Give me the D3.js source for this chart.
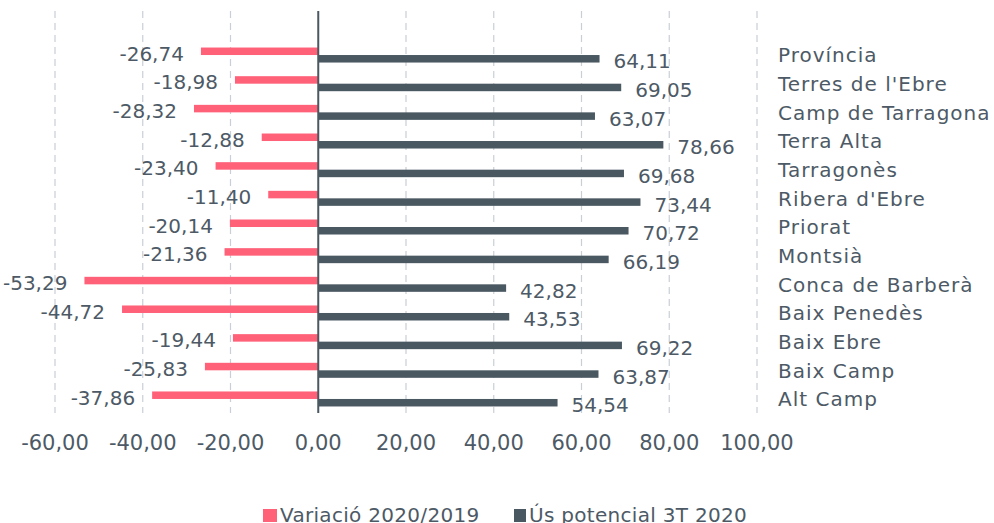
<!DOCTYPE html>
<html>
<head>
<meta charset="utf-8">
<script src="https://cdn.jsdelivr.net/npm/d3@7"></script>
<style>
  body { margin: 0; background: #fff; }
  text { font-family: "DejaVu Sans", sans-serif; fill: #4d5a66; }
</style>
</head>
<body>
<svg id="chart" width="994" height="523"></svg>
<script>
// Categories, top to bottom.
const categories = ['Província', "Terres de l'Ebre", 'Camp de Tarragona', 'Terra Alta', 'Tarragonès',
    "Ribera d'Ebre", 'Priorat', 'Montsià', 'Conca de Barberà', 'Baix Penedès', 'Baix Ebre',
    'Baix Camp', 'Alt Camp'];

// Variació 2020/2019
const variacio = [-26.74, -18.98, -28.32, -12.88, -23.40, -11.40, -20.14, -21.36, -53.29, -44.72, -19.44, -25.83, -37.86];

// Ús potencial 3T 2020
const usPotencial = [64.11, 69.05, 63.07, 78.66, 69.68, 73.44, 70.72, 66.19, 42.82, 43.53, 69.22, 63.87, 54.54];

const seriesNames = ['Variació 2020/2019', 'Ús potencial 3T 2020'];
const xTicks = [-60, -40, -20, 0, 20, 40, 60, 80, 100];

const pink = '#ff6179';
const dark = '#4a5862';

// comma decimals, plain hyphen for negatives
const locale = d3.formatLocale({decimal: ',', thousands: '.', grouping: [3], currency: ['', '€'], minus: '-'});
const fmt = locale.format('.2f');

const svg = d3.select('#chart');

let x = d3.scaleLinear().domain([-60, 100]).range([55, 757]);

let y0 = d3.scaleBand().domain(categories).range([40.7, 413.3]);
let y1 = d3.scaleBand().domain(seriesNames).range([0, y0.bandwidth()]).paddingOuter(0.91);

const gridTop = 11, gridBottom = 413;

// dashed gridlines
svg.append('g')
    .selectAll('line')
    .data(xTicks.filter(d => d !== 0))
    .enter().append('line')
    .attr('x1', d => x(d)).attr('x2', d => x(d))
    .attr('y1', gridTop).attr('y2', gridBottom)
    .attr('stroke', '#c9cfd6')
    .attr('stroke-width', 1.2)
    .attr('stroke-dasharray', '7,5');

// tick labels
svg.append('g')
    .selectAll('text')
    .data(xTicks)
    .enter().append('text')
    .attr('x', d => x(d))
    .attr('y', 450)
    .attr('text-anchor', 'middle')
    .style('font-size', '21px')
    .text(d => fmt(d));

let rows = categories.map((c, i) => ({cat: c, v: variacio[i], u: usPotencial[i]}));

// variació bars
svg.append('g')
    .selectAll('rect')
    .data(rows)
    .enter().append('rect')
    .attr('x', d => x(d.v))
    .attr('width', d => x(0) - x(d.v))
    .attr('y', d => y0(d.cat) + y1(seriesNames[0]))
    .attr('height', y1.bandwidth())
    .attr('fill', pink);

// ús potencial bars
svg.append('g')
    .selectAll('rect')
    .data(rows)
    .enter().append('rect')
    .attr('x', x(0))
    .attr('width', d => x(d.u) - x(0))
    .attr('y', d => y0(d.cat) + y1(seriesNames[1]))
    .attr('height', y1.bandwidth())
    .attr('fill', dark);

// zero line
svg.append('line')
    .attr('x1', x(0)).attr('x2', x(0))
    .attr('y1', gridTop).attr('y2', gridBottom)
    .attr('stroke', dark)
    .attr('stroke-width', 2);

// value labels
svg.append('g')
    .selectAll('text')
    .data(rows)
    .enter().append('text')
    .attr('x', d => x(d.v) - 17)
    .attr('y', d => y0(d.cat) + y1(seriesNames[0]) + y1.bandwidth() / 2 + 9.5)
    .attr('text-anchor', 'end')
    .style('font-size', '20px')
    .text(d => fmt(d.v));

svg.append('g')
    .selectAll('text')
    .data(rows)
    .enter().append('text')
    .attr('x', d => x(d.u) + 14)
    .attr('y', d => y0(d.cat) + y1(seriesNames[1]) + y1.bandwidth() / 2 + 9.5)
    .attr('text-anchor', 'start')
    .style('font-size', '20px')
    .text(d => fmt(d.u));

// category labels on the right
svg.append('g')
    .selectAll('text')
    .data(categories)
    .enter().append('text')
    .attr('x', 778)
    .attr('y', d => y0(d) + y0.bandwidth() / 2 + 7.3)
    .style('font-size', '20px')
    .style('letter-spacing', '1px')
    .text(d => d);

// legend
const legendItems = [
    {name: seriesNames[0], color: pink, x: 263, w: 14},
    {name: seriesNames[1], color: dark, x: 514, w: 12}
];
let legend = svg.append('g')
    .selectAll('g')
    .data(legendItems)
    .enter().append('g');
legend.append('rect')
    .attr('x', d => d.x)
    .attr('y', 509)
    .attr('width', d => d.w)
    .attr('height', 13)
    .attr('fill', d => d.color);
legend.append('text')
    .attr('x', d => d.x + d.w + 3)
    .attr('y', 521.5)
    .style('font-size', '20px')
    .style('letter-spacing', '0.3px')
    .text(d => d.name);
</script>
</body>
</html>
